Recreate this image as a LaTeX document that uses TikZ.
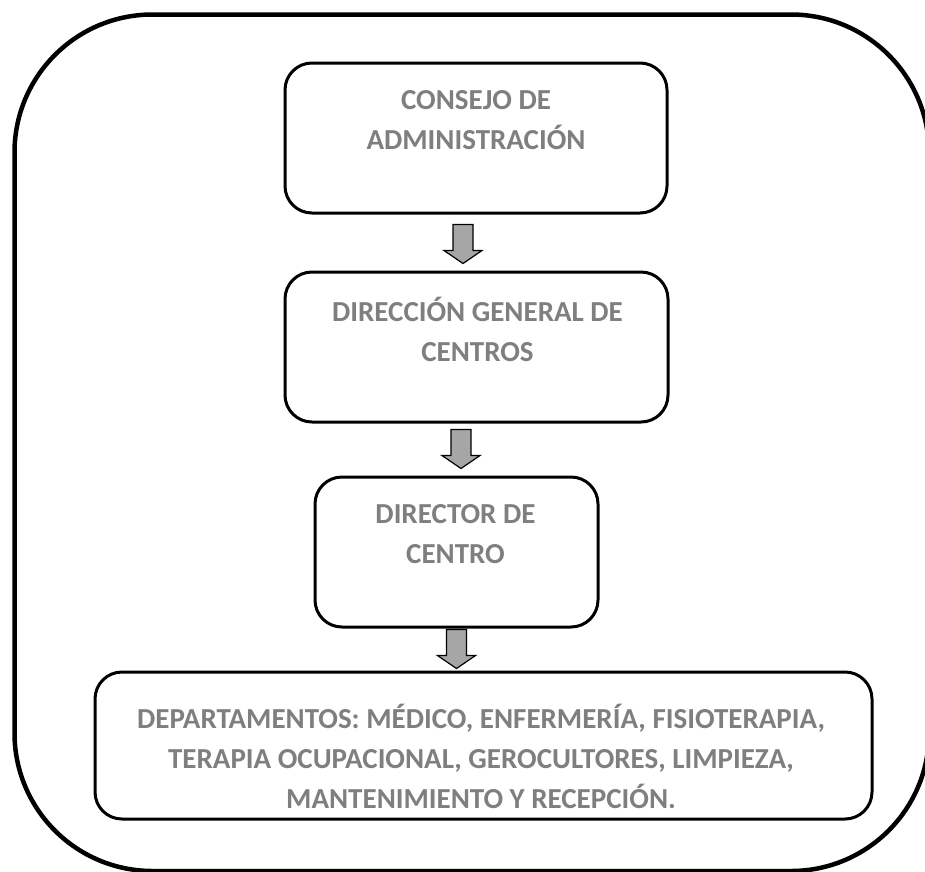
\documentclass[tikz,border=0pt]{standalone}
\usepackage{fontspec}
\setmainfont{Carlito}[BoldFont={Carlito Bold}]
\usetikzlibrary{calc}
\definecolor{labelgray}{HTML}{7F7F7F}
\definecolor{arrowgray}{HTML}{A6A6A6}
\tikzset{
  frame/.style={draw, line width=4.5pt, rounded corners=138pt},
  orgbox/.style={draw, line width=3pt, rounded corners=27pt, inner sep=0pt, fill=white},
  boxtext/.style={text=labelgray, font=\fontsize{29}{40}\selectfont\bfseries,
                  align=center, inner sep=0pt},
  pics/downarrow/.style={code={
    \draw[fill=arrowgray, line width=1.2pt, line join=miter]
      (-10,0) -- (10,0) -- (10,26) -- (19,26) -- (0,39) -- (-19,26) -- (-10,26) -- cycle;
  }}
}
\begin{document}
\begin{tikzpicture}[x=1pt, y=-1pt]
  \useasboundingbox (0,0) rectangle (925,871);
  \clip (0,0) rectangle (925,871);
  % outer frame, partly running off the page
  \draw[frame] (14.5,14.5) rectangle (929,871);

  % boxes
  \node[orgbox, minimum width=382pt, minimum height=150pt] (consejo) at (476,138) {};
  \node[orgbox, minimum width=383pt, minimum height=150pt] (direccion) at (476.5,347) {};
  \node[orgbox, minimum width=283pt, minimum height=150pt] (director) at (456.5,552) {};
  \node[orgbox, minimum width=777pt, minimum height=147pt] (deptos) at (483.5,745.5) {};

  % texts
  \node[boxtext] (consejoT) at (476,120) {CONSEJO DE\\ADMINISTRACIÓN};
  \node[boxtext] (direccionT) at (477.5,329) {DIRECCIÓN GENERAL DE\\CENTROS};
  \node[boxtext] (directorT) at (455.5,534.5) {DIRECTOR DE\\CENTRO};
  \node[boxtext] (deptosT) at (481,756) {DEPARTAMENTOS: MÉDICO, ENFERMERÍA, FISIOTERAPIA,\\TERAPIA OCUPACIONAL, GEROCULTORES, LIMPIEZA,\\MANTENIMIENTO Y RECEPCIÓN.};

  % block arrows between levels
  \pic at ($(consejo.south)+(-13,10)$) {downarrow};
  \pic at ($(direccion.south)+(-15.5,6)$) {downarrow};
  \pic at ($(director.south)+(0,1)$) {downarrow};
\end{tikzpicture}
\end{document}
